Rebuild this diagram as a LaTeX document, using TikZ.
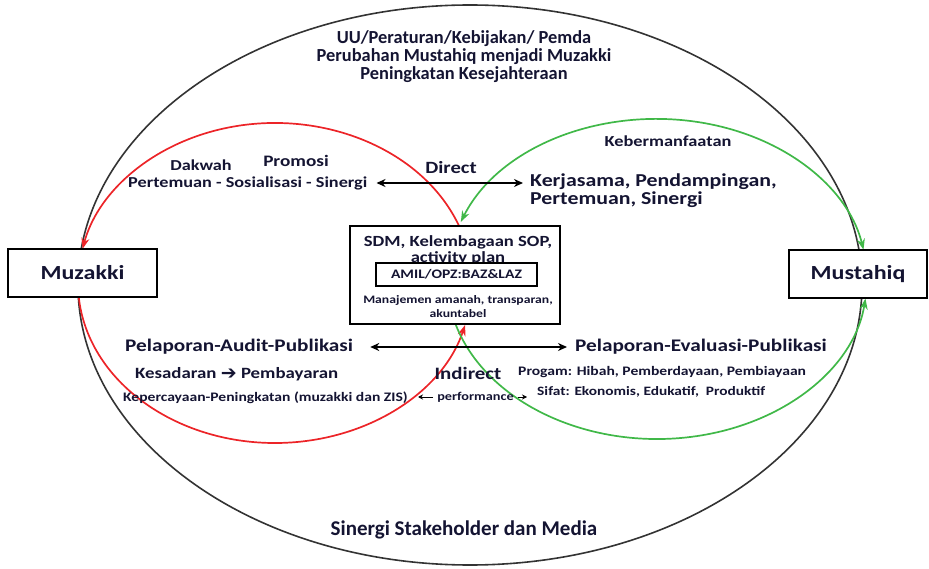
\documentclass[tikz,border=0pt]{standalone}
\usepackage{fontspec}
\setmainfont{Carlito}
\newfontfamily\wide{Carlito}[FakeStretch=1.2]
\newfontfamily\dejavu{DejaVu Sans}
\usetikzlibrary{arrows.meta,calc}
\definecolor{redline}{RGB}{236,36,40}
\definecolor{greenline}{RGB}{64,184,72}
\definecolor{txt}{RGB}{20,20,50}
\newcommand\fsz[1]{\fontsize{#1}{#1}\selectfont}
\newcommand\wb[1]{\wide\bfseries\fsz{#1}}
\tikzset{
  lbl/.style={inner sep=0pt, text=txt},
  bx/.style={draw, line width=1.6pt, fill=white},
  dbl/.style={{Stealth[length=9pt,width=8pt]}-{Stealth[length=9pt,width=8pt]}, line width=1.8pt},
  sml/.style={-{Stealth[length=5pt,width=5pt]}, line width=0.9pt},
  redarc/.style={draw=redline, line width=1.7pt},
  greenarc/.style={draw=greenline, line width=1.7pt},
  tip/.style={-{Stealth[length=11pt,width=8pt]}},
}
\begin{document}
\begin{tikzpicture}[x=1pt,y=-1pt]
\useasboundingbox (0,0) rectangle (929,569);
% outer ellipse
\coordinate (oc) at (470,285);
\draw[line width=1.6pt, black!80] (oc) ellipse [x radius=392pt, y radius=280pt];
% red ellipse arcs
\coordinate (rc) at (275,283);
\coordinate (rs1) at ($(rc)+(20.9:197pt and 160pt)$);
\coordinate (rs2) at ($(rc)+(185:197pt and 160pt)$);
\draw[redarc,tip] (rs1) arc[start angle=20.9, end angle=167.7, x radius=197pt, y radius=160pt];
\draw[redarc,tip] (rs2) arc[start angle=185, end angle=344.8, x radius=197pt, y radius=160pt];
% green ellipse arcs
\coordinate (gc) at (657,279);
\coordinate (gs1) at ($(gc)+(159.1:210pt and 160pt)$);
\coordinate (gs2) at ($(gc)+(196.7:210pt and 160pt)$);
\draw[greenarc,{Stealth[length=11pt,width=8pt]}-{Stealth[length=11pt,width=8pt]}] (gs1) arc[start angle=159.1, end angle=10.5, x radius=210pt, y radius=160pt];
\draw[greenarc,tip] (gs2) arc[start angle=196.7, end angle=353, x radius=210pt, y radius=160pt];
% boxes
\node[bx, minimum width=149pt, minimum height=48pt, inner sep=0pt, font=\wb{20}, text=txt] (muz) at (82.5,273) {Muzakki};
\node[bx, minimum width=138pt, minimum height=48pt, inner sep=0pt, font=\wb{20}, text=txt] (mus) at (858,274) {Mustahiq};
\node[bx, minimum width=210pt, minimum height=98pt, inner sep=0pt] (ctr) at (455,275) {};
\node[lbl, font=\wb{15.5}] (sdm) at (458,242) {SDM, Kelembagaan SOP,};
\node[lbl, font=\wb{15.5}] (act) at (458,258) {activity plan};
\node[bx, minimum width=161pt, minimum height=23pt, inner sep=0pt, font=\wb{13}, text=txt] (amil) at (456.5,274.5) {AMIL/OPZ:BAZ\&LAZ};
\node[lbl, font=\wb{11.4}] (man) at (458,300) {Manajemen amanah, transparan,};
\node[lbl, font=\wb{11.4}] (akun) at (458,314) {akuntabel};
% top texts
\node[lbl, font=\bfseries\fsz{18.4}] (t1) at (464,39) {UU/Peraturan/Kebijakan/ Pemda};
\node[lbl, font=\bfseries\fsz{18.4}] (t2) at (464,57) {Perubahan Mustahiq menjadi Muzakki};
\node[lbl, font=\bfseries\fsz{18.4}] (t3) at (464,75) {Peningkatan Kesejahteraan};
\node[lbl, font=\bfseries\fsz{21}] (bot) at (464,530) {Sinergi Stakeholder dan Media};
% upper labels
\node[lbl, font=\wb{15.2}] (dak) at (201,165) {Dakwah};
\node[lbl, font=\wb{16}] (pro) at (296,161) {Promosi};
\node[lbl, font=\wb{17.2}] (dir) at (451,168) {Direct};
\node[lbl, font=\wb{15.2}, anchor=west] (pts) at (128,183) {Pertemuan - Sosialisasi - Sinergi};
\node[lbl, font=\wb{15.3}] (keb) at (668,141) {Kebermanfaatan};
\node[lbl, font=\wb{18.2}, anchor=west] (ker) at (530,182) {Kerjasama, Pendampingan,};
\node[lbl, font=\wb{18.2}, anchor=west] (per) at (530,200) {Pertemuan, Sinergi};
\draw[dbl] ([xshift=9pt]pts.east) -- ([xshift=-7pt]ker.west |- pts.east);
% lower labels
\node[lbl, font=\wb{17.7}, anchor=west] (pap) at (125,347) {Pelaporan-Audit-Publikasi};
\node[lbl, font=\wb{17.7}, anchor=west] (pep) at (575,347) {Pelaporan-Evaluasi-Publikasi};
\draw[dbl] ([xshift=17pt]pap.east) -- ([xshift=-8pt]pep.west);
\node[lbl, font=\wb{15.7}, anchor=west] (kes) at (135,374) {Kesadaran {\dejavu\fsz{19}\raisebox{-1pt}{➔}} Pembayaran};
\node[lbl, font=\wb{17.4}] (ind) at (468,373) {Indirect};
\node[lbl, font=\wb{13}, anchor=west] (prog) at (518,372) {Progam: Hibah, Pemberdayaan, Pembiayaan};
\node[lbl, font=\wb{12.8}, anchor=west] (sif) at (537,392) {Sifat: Ekonomis, Edukatif,\ \ Produktif};
\node[lbl, font=\wb{13}, anchor=west] (kep) at (123,398) {Kepercayaan-Peningkatan (muzakki dan ZIS)};
\node[lbl, font=\wb{11.9}] (perf) at (475.5,397) {performance};
\coordinate (pl) at (418,397);
\coordinate (pr) at (527,397);
\draw[sml] ([xshift=-4pt]perf.west) -- (pl);
\draw[sml] ([xshift=4pt]perf.east) -- (pr);
\end{tikzpicture}
\end{document}
